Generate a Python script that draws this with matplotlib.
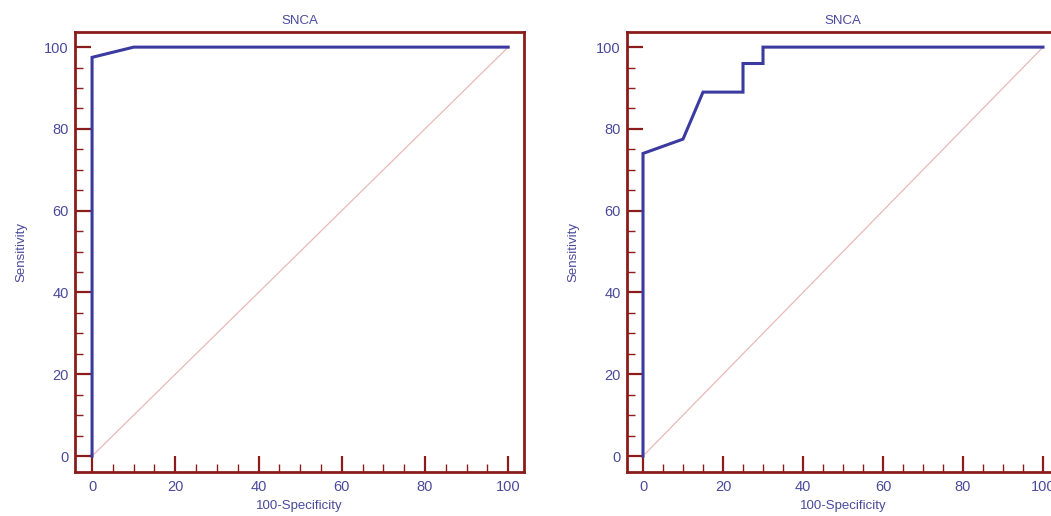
import matplotlib.pyplot as plt
from matplotlib.ticker import MultipleLocator

plt.rcParams['font.family'] = ['Liberation Sans', 'DejaVu Sans']

# ROC curve points (100-Specificity, Sensitivity)
left_x = [0, 0, 10, 100]
left_y = [0, 97.5, 100, 100]
right_x = [0, 0, 10, 15, 25, 25, 30, 30, 100]
right_y = [0, 74, 77.5, 89, 89, 96, 96, 100, 100]
titles = ['SNCA', 'SNCA']

frame_col = '#8b1c1c'
text_col = '#4a4a9c'
curve_col = '#3a3aa0'

fig = plt.figure(figsize=(10.51, 5.16), dpi=100)
W, H = 1051, 516

# axes boxes in pixels: left, right, bottom(top px), top(top px), xlim
boxes = [(75, 524, 472, 32, (-4.1, 103.8)),
         (627, 1059, 472, 32, (-4, 104))]
series = [(left_x, left_y), (right_x, right_y)]

for (l, r, b, t, xl), (xs, ys), ttl in zip(boxes, series, titles):
    ax = fig.add_axes([l / W, 1 - b / H, (r - l) / W, (b - t) / H])
    ax.plot([0, 100], [0, 100], color='#e9b9b9', lw=0.9)
    ax.plot(xs, ys, color=curve_col, lw=2.2, solid_joinstyle='miter')
    ax.set_xlim(*xl)
    ax.set_ylim(-3.9, 103.7)
    for s in ax.spines.values():
        s.set_color(frame_col)
        s.set_linewidth(2)
    ax.xaxis.set_major_locator(MultipleLocator(20))
    ax.xaxis.set_minor_locator(MultipleLocator(5))
    ax.yaxis.set_major_locator(MultipleLocator(20))
    ax.yaxis.set_minor_locator(MultipleLocator(5))
    ax.tick_params(which='major', direction='in', length=11.5, width=1.6,
                   color=frame_col, labelcolor=text_col, labelsize=10.5)
    ax.tick_params(axis='x', which='major', pad=6)
    ax.tick_params(axis='y', which='major', pad=4.5)
    ax.tick_params(which='minor', direction='in', length=5.5, width=1,
                   color=frame_col)
    ax.set_title(ttl, color=text_col, fontsize=9.5, pad=6)
    ax.set_xlabel('100-Specificity', color=text_col, fontsize=9.5, labelpad=4)
    ax.set_ylabel('Sensitivity', color=text_col, fontsize=9.5, labelpad=12)

fig.savefig('out.png', dpi=100)
